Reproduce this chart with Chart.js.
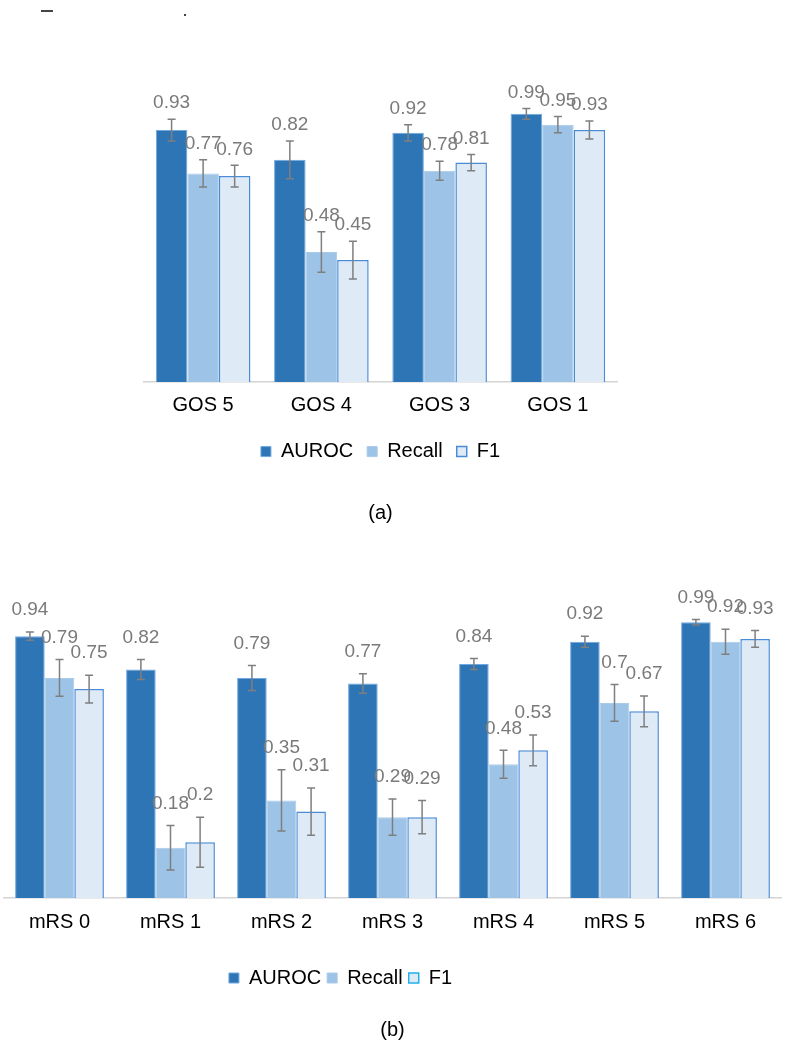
<!DOCTYPE html>
<html>
<head>
<meta charset="utf-8">
<script src="https://cdn.jsdelivr.net/npm/chart.js@4"></script>
<style>
  body { margin: 0; background: #fff; width: 788px; height: 1050px; overflow: hidden; position: relative; }
  canvas { position: absolute; left: 0; }
  #chartA { top: 0; }
  #chartB { top: 560px; }
  .mark { position: absolute; background: #444; }
</style>
</head>
<body>
<div class="mark" style="left:41px;top:10px;width:12px;height:2px"></div>
<div class="mark" style="left:184px;top:14px;width:2px;height:2px"></div>
<canvas id="chartA" width="788" height="535"></canvas>
<canvas id="chartB" width="788" height="489"></canvas>
<script>
// (a) GOS
const gosLabels = ["GOS 5", "GOS 4", "GOS 3", "GOS 1"];
const gosAuroc = [0.93, 0.82, 0.92, 0.99];
const gosRecall = [0.77, 0.48, 0.78, 0.95];
const gosF1 = [0.76, 0.45, 0.81, 0.93];
const gosAurocErr = [0.04, 0.07, 0.03, 0.02];
const gosRecallErr = [0.05, 0.075, 0.035, 0.03];
const gosF1Err = [0.04, 0.07, 0.03, 0.033];

// (b) mRS
const mrsLabels = ["mRS 0", "mRS 1", "mRS 2", "mRS 3", "mRS 4", "mRS 5", "mRS 6"];
const mrsAuroc = [0.94, 0.82, 0.79, 0.77, 0.84, 0.92, 0.99];
const mrsRecall = [0.79, 0.18, 0.35, 0.29, 0.48, 0.7, 0.92];
const mrsF1 = [0.75, 0.2, 0.31, 0.29, 0.53, 0.67, 0.93];
const mrsAurocErr = [0.015, 0.036, 0.045, 0.035, 0.02, 0.02, 0.01];
const mrsRecallErr = [0.066, 0.08, 0.11, 0.065, 0.05, 0.066, 0.045];
const mrsF1Err = [0.05, 0.09, 0.085, 0.06, 0.055, 0.055, 0.03];

Chart.defaults.font.family = '"Liberation Sans", Arial, sans-serif';
Chart.defaults.animation = false;

// error bars + value labels above them
const errorBars = {
    id: "errorBars",
    afterDatasetsDraw(chart, args, opts) {
        const ctx = chart.ctx;
        const y = chart.scales.y;
        chart.data.datasets.forEach((ds, i) => {
            chart.getDatasetMeta(i).data.forEach((bar, j) => {
                const v = ds.data[j];
                const e = ds.errors[j];
                const top = y.getPixelForValue(v + e);
                const bot = y.getPixelForValue(v - e);
                ctx.save();
                ctx.strokeStyle = "#7f7f7f";
                ctx.lineWidth = 1.5;
                ctx.beginPath();
                ctx.moveTo(bar.x, top);
                ctx.lineTo(bar.x, bot);
                ctx.moveTo(bar.x - 4, top);
                ctx.lineTo(bar.x + 4, top);
                ctx.moveTo(bar.x - 4, bot);
                ctx.lineTo(bar.x + 4, bot);
                ctx.stroke();
                ctx.fillStyle = "#7a7a7a";
                ctx.font = '19px "Liberation Sans", Arial, sans-serif';
                ctx.textAlign = "center";
                ctx.textBaseline = "middle";
                ctx.fillText(String(v), bar.x, top - opts.gap);
                ctx.restore();
            });
        });
    }
};

// move the legend sideways (Excel did not centre it in (b))
const legendShift = {
    id: "legendShift",
    afterLayout(chart, args, opts) {
        if (!opts.dx) return;
        chart.legend.left += opts.dx;
        chart.legend.right += opts.dx;
    }
};

function makeDatasets(auroc, recall, f1, aErr, rErr, fErr) {
    return [
        { label: "AUROC", data: auroc, errors: aErr, backgroundColor: "#2e75b6", borderColor: "#6fa8e0", borderWidth: 1 },
        { label: "Recall", data: recall, errors: rErr, backgroundColor: "#9dc3e6", borderColor: "#a9cbea", borderWidth: 1 },
        { label: "F1", data: f1, errors: fErr, backgroundColor: "#deebf7", borderColor: "#4a8bd8", borderWidth: 1.5 }
    ];
}

function makeChart(id, labels, datasets, o) {
    new Chart(document.getElementById(id).getContext("2d"), {
        type: "bar",
        data: { labels: labels, datasets: datasets },
        plugins: [errorBars, legendShift],
        options: {
            responsive: false,
            devicePixelRatio: 1,
            layout: { padding: o.padding },
            datasets: { bar: { categoryPercentage: 0.8, barPercentage: 1.0 } },
            scales: {
                y: { display: false, min: 0, max: 1.1 },
                x: {
                    grid: { display: false, drawTicks: false },
                    border: { display: true, color: "#d4d4d4", width: 1.5 },
                    ticks: { color: "#000", font: { size: 20 }, padding: o.tickPad },
                    afterFit: (scale) => { scale.height += o.axisExtra; }
                }
            },
            plugins: {
                tooltip: { enabled: false },
                legend: {
                    position: "bottom",
                    labels: {
                        boxWidth: 10, boxHeight: 10, padding: o.legendPad, color: "#000", font: { size: 20 },
                        generateLabels: (chart) => {
                            const items = Chart.defaults.plugins.legend.labels.generateLabels(chart);
                            // F1 key in (b) has a cyan outline
                            if (o.f1Key) items[2].strokeStyle = o.f1Key;
                            return items;
                        }
                    }
                },
                title: {
                    display: true,
                    position: "bottom",
                    text: o.title,
                    color: "#000",
                    font: { size: 20, weight: "normal" },
                    padding: o.titlePad
                },
                errorBars: { gap: o.labelGap },
                legendShift: { dx: o.legendDx }
            }
        }
    });
}

makeChart("chartA", gosLabels,
    makeDatasets(gosAuroc, gosRecall, gosF1, gosAurocErr, gosRecallErr, gosF1Err),
    { padding: { top: 84, left: 144, right: 171, bottom: 0 }, tickPad: 11, axisExtra: -0.4,
      legendPad: 14, title: "(a)", titlePad: { top: 29.4, bottom: 10 }, labelGap: 16, legendDx: 0 });

makeChart("chartB", mrsLabels,
    makeDatasets(mrsAuroc, mrsRecall, mrsF1, mrsAurocErr, mrsRecallErr, mrsF1Err),
    { padding: { top: 31.6, left: 4, right: 7, bottom: 0 }, tickPad: 13, axisExtra: 14.1,
      legendPad: 6, title: "(b)", titlePad: { top: 20, bottom: 7 }, labelGap: 22, legendDx: -52,
      f1Key: "#1fb0ec" });
</script>
</body>
</html>
